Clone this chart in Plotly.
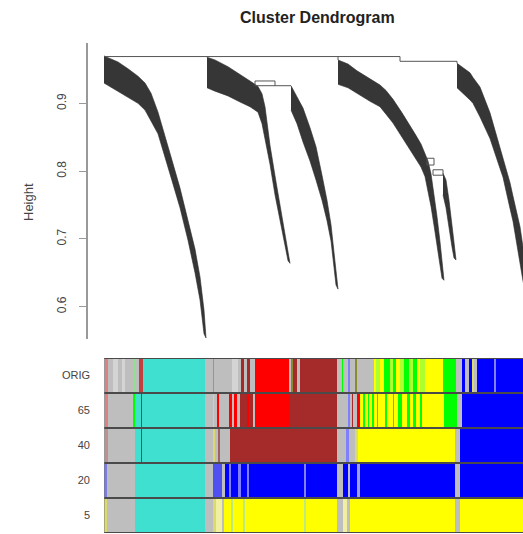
import plotly.graph_objects as go

# ---------------- dendrogram branches (leaf position, merge height, leaf height)
a_pos = [0, 6, 14, 24, 34, 41, 47, 54, 61, 68, 76, 84, 91, 96, 100, 102]
a_top = [0.970, 0.966, 0.961, 0.951, 0.940, 0.930, 0.915, 0.887, 0.850, 0.816, 0.775, 0.729, 0.685, 0.644, 0.595, 0.554]
a_bot = [0.930, 0.924, 0.918, 0.909, 0.900, 0.890, 0.874, 0.855, 0.822, 0.786, 0.746, 0.698, 0.650, 0.610, 0.560, 0.554]

b1_pos = [103, 111, 124, 136, 146, 154, 158, 161, 166, 171, 176, 181, 184, 186]
b1_top = [0.968, 0.964, 0.954, 0.943, 0.933, 0.925, 0.914, 0.895, 0.838, 0.793, 0.749, 0.703, 0.677, 0.664]
b1_bot = [0.923, 0.918, 0.911, 0.902, 0.895, 0.887, 0.870, 0.845, 0.810, 0.765, 0.728, 0.690, 0.668, 0.664]

b2_pos = [187, 193, 199, 206, 212, 218, 223, 227, 230, 232, 234]
b2_top = [0.926, 0.909, 0.893, 0.864, 0.836, 0.794, 0.757, 0.721, 0.684, 0.654, 0.626]
b2_bot = [0.890, 0.870, 0.843, 0.815, 0.787, 0.757, 0.727, 0.697, 0.662, 0.632, 0.626]

c1_pos = [234, 244, 253, 266, 276, 282, 289, 298, 306, 311, 317, 321, 324, 327, 330, 333, 336, 338, 340]
c1_top = [0.964, 0.958, 0.948, 0.936, 0.927, 0.919, 0.906, 0.886, 0.868, 0.855, 0.840, 0.827, 0.815, 0.796, 0.767, 0.733, 0.696, 0.669, 0.639]
c1_bot = [0.928, 0.923, 0.915, 0.903, 0.895, 0.884, 0.871, 0.852, 0.833, 0.820, 0.806, 0.792, 0.772, 0.748, 0.720, 0.690, 0.660, 0.642, 0.639]

c2_pos = [339, 342, 345, 348, 350, 352]
c2_top = [0.797, 0.787, 0.757, 0.723, 0.695, 0.669]
c2_bot = [0.765, 0.746, 0.717, 0.688, 0.672, 0.669]

d_pos = [353, 356, 366, 369, 376, 386, 396, 399, 406, 409, 416, 419, 426, 432]
d_top = [0.959, 0.956, 0.945, 0.938, 0.924, 0.886, 0.836, 0.820, 0.783, 0.763, 0.718, 0.688, 0.639, 0.595]
d_bot = [0.923, 0.920, 0.905, 0.900, 0.880, 0.848, 0.804, 0.791, 0.745, 0.726, 0.665, 0.638, 0.590, 0.555]

# connector lines of the dendrogram (merge links)
link_x = [0, 296, 296, 353, 353, None, 103, 103, None, 234, 234, None,
          171, 151, 151, 171, 171, 187, None,
          330, 323, 323, 330, 330, None,
          339, 329, 329, 339, 339]
link_h = [0.969, 0.969, 0.962, 0.962, 0.959, None, 0.969, 0.968, None, 0.969, 0.964, None,
          0.926, 0.926, 0.933, 0.933, 0.926, 0.926, None,
          0.809, 0.809, 0.819, 0.819, 0.809, None,
          0.794, 0.794, 0.802, 0.802, 0.794]

# ---------------- colour rows (segment starts along the leaf order, colour names)
row_labels = ["5", "20", "40", "65", "ORIG"]
row_end = 436

orig_starts = [0, 1, 4, 9, 14, 18, 21, 29, 32, 35, 39, 101, 109, 110, 128, 134, 137, 140, 143, 146,
               151, 185, 187, 189, 193, 196, 233, 238, 239, 244, 246, 251, 253, 270, 272, 276, 280, 286, 289, 292,
               296, 300, 305, 309, 313, 316, 321, 339, 352, 358, 361, 365, 368, 370, 373, 390, 392]
orig_colors = ["grey", "pink", "grey", "lgrey", "grey", "lgrey", "grey", "lgreen", "grey", "redbrown",
               "turq", "grey", "green", "grey", "lgrey", "grey", "brown", "grey", "brown", "grey",
               "red", "grey", "olive", "brown", "grey", "brown", "grey", "green", "grey", "lblue",
               "grey", "olive", "grey", "yellow", "gy", "yellow", "green", "gy", "green", "yellow",
               "gy", "green", "gy", "green", "yellow", "gy", "yellow", "green", "grey", "blue",
               "grey", "blue", "khaki", "grey", "blue", "lblue", "blue"]

c65_starts = [0, 1, 4, 29, 31, 37, 38, 101, 109, 110, 113, 115, 125, 128, 130, 133, 136, 143, 145, 149,
              151, 186, 233, 244, 246, 248, 249, 253, 256, 259, 261, 264, 265, 268, 270, 273, 274, 281, 283, 289,
              290, 294, 298, 303, 306, 309, 312, 316, 318, 340, 353, 358]
c65_colors = ["grey", "pink", "grey", "green", "turq", "dark", "turq", "grey", "lcyan", "grey",
              "red", "grey", "red", "grey", "red", "grey", "brown", "red", "brown", "grey",
              "red", "brown", "grey", "lblue", "grey", "brown", "grey", "red", "yellow", "green",
              "yellow", "green", "yellow", "green", "yellow", "green", "yellow", "green", "yellow", "green",
              "yellow", "green", "yellow", "green", "yellow", "green", "yellow", "green", "yellow", "green",
              "grey", "blue"]

c40_starts = [0, 1, 4, 31, 37, 38, 101, 109, 111, 114, 116, 126, 233, 242, 245, 251, 254, 351, 356]
c40_colors = ["grey", "pinkbrown", "grey", "turq", "dark", "turq", "grey", "khaki", "grey", "dbrownish",
              "grey", "brown", "grey", "lblue", "grey", "khaki", "yellow", "grey", "blue"]

c20_starts = [0, 3, 31, 101, 109, 118, 121, 125, 127, 134, 137, 143, 145, 200, 202, 233, 239, 244, 246, 253,
              256, 351, 356]
c20_colors = ["peri", "grey", "turq", "grey", "mblue", "grey", "blue", "lblue", "blue", "lblue",
              "blue", "lblue", "blue", "lblue", "blue", "grey", "blue", "grey", "blue", "greyblue",
              "blue", "grey", "blue"]

c5_starts = [0, 3, 31, 101, 109, 112, 118, 120, 127, 129, 139, 141, 200, 202, 233, 239, 243, 246, 351, 356]
c5_colors = ["khaki", "grey", "turq", "grey", "khaki", "lyel", "grey", "yellow", "ygreen", "yellow",
             "ygreen", "yellow", "ygreen", "yellow", "grey", "lyel", "grey", "yellow", "grey", "yellow"]

palette = {
    "grey": "#BEBEBE", "lgrey": "#D4D4D4", "turq": "#40E0D0", "red": "#FF0000", "brown": "#A52A2A",
    "yellow": "#FFFF00", "green": "#00FF00", "gy": "#ADFF2F", "blue": "#0000FF", "pink": "#E08080",
    "lgreen": "#90E090", "redbrown": "#C04040", "olive": "#8A8A30", "lblue": "#8080FF", "khaki": "#DADA70",
    "dark": "#505050", "lcyan": "#A0E0E0", "pinkbrown": "#C09090", "dbrownish": "#A06060", "peri": "#7B7BE0",
    "mblue": "#5050F0", "greyblue": "#A0A0E0", "lyel": "#F0F0A0", "ygreen": "#C0E880",
}

rows = [(c5_starts, c5_colors), (c20_starts, c20_colors), (c40_starts, c40_colors),
        (c65_starts, c65_colors), (orig_starts, orig_colors)]

# ---------------- layout geometry (figure 523 x 534)
W, H = 523, 534
FONT = "Liberation Sans, Arial, Helvetica, sans-serif"

fig = go.Figure()

# colour bars
for i, (starts, cols) in enumerate(rows):
    ends = starts[1:] + [row_end]
    fig.add_trace(go.Bar(
        orientation="h", y=[i] * len(starts), base=starts,
        x=[e - s for s, e in zip(starts, ends)],
        marker=dict(color=[palette[c] for c in cols], line=dict(width=0)),
        width=1, xaxis="x", yaxis="y2", showlegend=False, hoverinfo="skip",
    ))

# dendrogram branches
for pos, top, bot in [(a_pos, a_top, a_bot), (b1_pos, b1_top, b1_bot), (b2_pos, b2_top, b2_bot),
                      (c1_pos, c1_top, c1_bot), (c2_pos, c2_top, c2_bot), (d_pos, d_top, d_bot)]:
    fig.add_trace(go.Scatter(
        x=pos + pos[::-1], y=top + bot[::-1], fill="toself", mode="lines",
        fillcolor="#363636", line=dict(color="#2a2a2a", width=0.6),
        xaxis="x", yaxis="y", showlegend=False, hoverinfo="skip",
    ))

fig.add_trace(go.Scatter(
    x=link_x, y=link_h, mode="lines", line=dict(color="#555555", width=1),
    xaxis="x", yaxis="y", showlegend=False, hoverinfo="skip",
))

# row separators of the colour block
shapes = []
for k in range(len(row_labels) + 1):
    shapes.append(dict(type="line", xref="x", yref="y2", x0=0, x1=row_end, y0=k - 0.5, y1=k - 0.5,
                       line=dict(color="#4a4a4a", width=2)))
shapes.append(dict(type="line", xref="x", yref="y2", x0=0, x1=0, y0=-0.5, y1=4.5,
                   line=dict(color="#777777", width=1)))

fig.update_layout(
    width=W, height=H,
    margin=dict(l=0, r=0, t=0, b=0),
    paper_bgcolor="white", plot_bgcolor="white",
    barmode="overlay", bargap=0,
    font=dict(family=FONT, color="#333333"),
    shapes=shapes,
    xaxis=dict(domain=[104 / W, 1], range=[0, 419], visible=False, anchor="y2"),
    yaxis=dict(domain=[1 - 339 / H, 1 - 43 / H], range=[0.5524, 0.989],
               anchor="free", position=87 / W,
               tickvals=[0.6, 0.7, 0.8, 0.9], ticktext=["0.6", "0.7", "0.8", "0.9"],
               tickangle=-90, ticks="outside", ticklen=7, tickcolor="#999999",
               ticklabelstandoff=8,
               showline=True, linecolor="#999999", linewidth=1.5,
               showgrid=False, zeroline=False, tickfont=dict(size=12, color="#444444")),
    yaxis2=dict(domain=[1 - 533 / H, 1 - 358 / H], range=[-0.5, 4.5], anchor="x",
                tickvals=list(range(len(row_labels))), ticktext=row_labels,
                ticks="", showline=False, showgrid=False, zeroline=False,
                ticklabelstandoff=13, tickfont=dict(size=11, color="#444444")),
    annotations=[
        dict(text="<b>Cluster Dendrogram</b>", xref="paper", yref="paper",
             x=317 / W, y=1 - 18 / H, xanchor="center", yanchor="middle",
             showarrow=False, font=dict(size=16, color="#222222", family=FONT)),
        dict(text="Height", xref="paper", yref="paper", x=28 / W, y=1 - 202 / H,
             xanchor="center", yanchor="middle", textangle=-90, showarrow=False,
             font=dict(size=13, color="#444444", family=FONT)),
    ],
)

fig.write_html("out.html", config={"displayModeBar": False},
               post_script="document.body.style.margin='0px';")
